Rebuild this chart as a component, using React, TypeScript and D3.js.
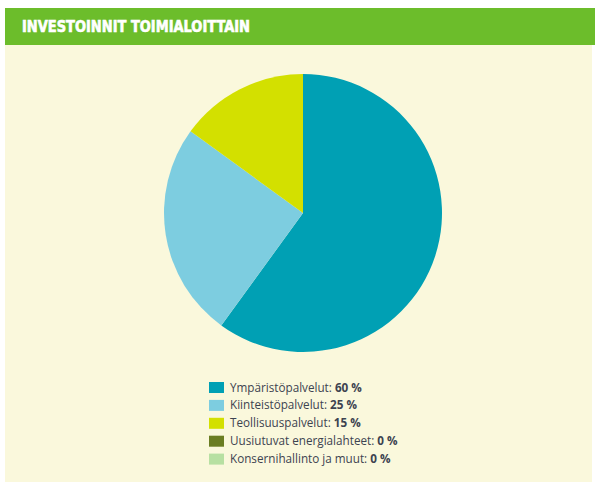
import React from "react";
import * as d3 from "d3";

const title = "INVESTOINNIT TOIMIALOITTAIN";
const categories = [
  "Ympäristöpalvelut",
  "Kiinteistöpalvelut",
  "Teollisuuspalvelut",
  "Uusiutuvat energialahteet",
  "Konsernihallinto ja muut",
];
const values = [60, 25, 15, 0, 0];
const colors = ["#00a0b4", "#7dcde0", "#d3e000", "#6a7d22", "#b7e0a2"];

const W = 595;
const H = 482;

export default function App() {
  const cx = 303;
  const cy = 213;
  const r = 139;
  const pie = d3.pie<number>().sort(null).value((d) => d)(values);
  const arc = d3.arc<d3.PieArcDatum<number>>().innerRadius(0).outerRadius(r);

  const legendX = 209;
  const legendY0 = 382;
  const legendStep = 17.9;

  return (
    <svg
      width={W}
      height={H}
      style={{ position: "absolute", left: 0, top: 0, display: "block" }}
    >
      <rect x={0} y={0} width={W} height={H} fill="#ffffff" />
      <rect x={5} y={45} width={587} height={H - 45} fill="#faf8dc" />
      <rect x={5} y={8} width={590} height={37} fill="#6cbd2b" />
      <text
        x={22}
        y={32}
        fill="#ffffff"
        stroke="#ffffff"
        strokeWidth={0.6}
        fontFamily="'DejaVu Sans Condensed', 'DejaVu Sans', sans-serif"
        fontWeight="bold"
        fontSize={15}
        textLength={228}
        lengthAdjust="spacingAndGlyphs"
      >
        {title}
      </text>
      <g transform={`translate(${cx},${cy})`}>
        {pie.map((d, i) =>
          d.value > 0 ? (
            <path key={i} d={arc(d) || ""} fill={colors[i]} />
          ) : null
        )}
      </g>
      <g>
        {categories.map((c, i) => {
          const y = legendY0 + i * legendStep;
          return (
            <g key={c}>
              <rect x={legendX} y={y} width={15} height={11} fill={colors[i]} />
              <text
                x={230}
                y={y + 9.5}
                fill="#3d4350"
                fontFamily="'Open Sans', 'DejaVu Sans', sans-serif"
                fontSize={11.7}
              >
                {c}:{" "}
                <tspan fontWeight="bold">{values[i]} %</tspan>
              </text>
            </g>
          );
        })}
      </g>
    </svg>
  );
}
